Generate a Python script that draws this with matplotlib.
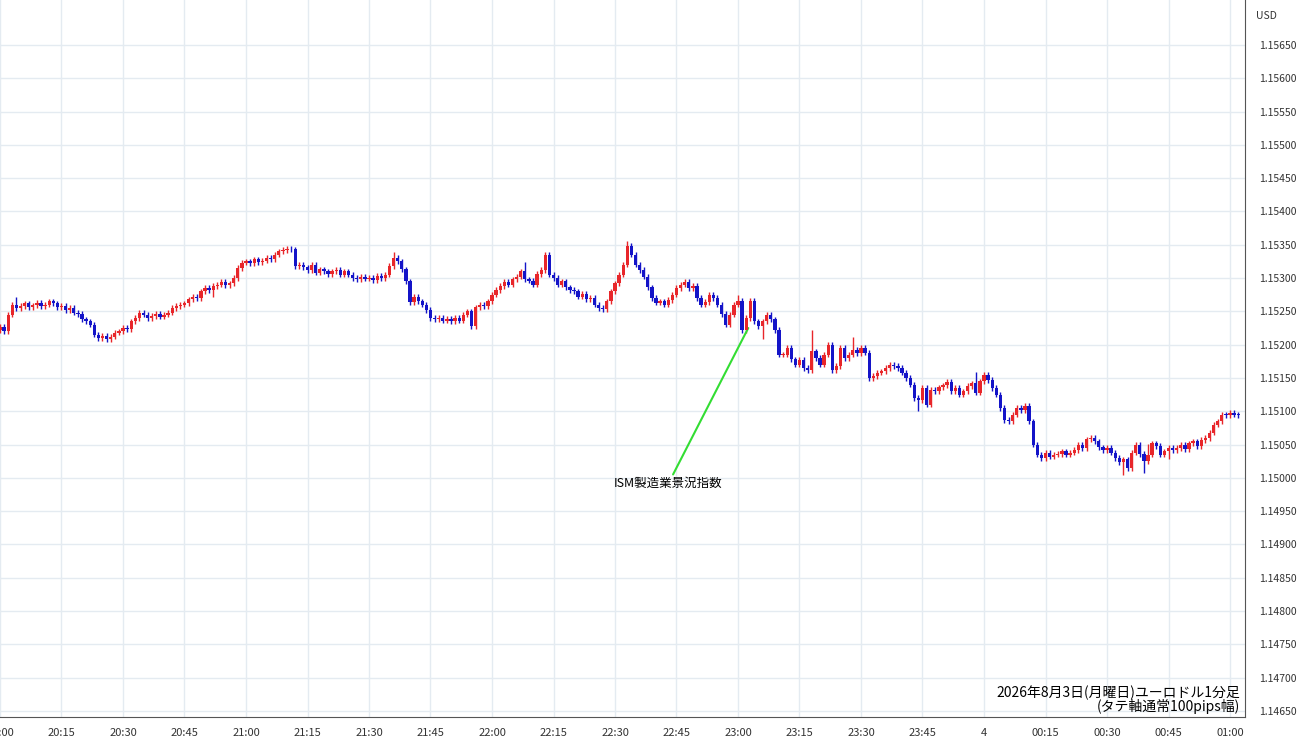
import matplotlib
matplotlib.use("Agg")
import matplotlib.pyplot as plt
import numpy as np

plt.rcParams['font.family'] = ['Noto Sans CJK JP', 'DejaVu Sans']

# closes in pips above 1.15000, one per minute from 20:00
closes_pips = [
 22.7,22.0,24.5,26.0,25.5,25.8,26.2,25.6,25.9,26.3,25.8,26.0,26.5,26.2,25.6,
 25.8,25.2,25.5,24.8,24.6,23.8,23.5,23.0,21.5,21.0,21.3,20.8,21.2,21.8,22.0,
 22.5,22.3,23.5,24.0,24.8,24.5,24.0,24.3,24.6,24.2,24.5,24.8,25.5,25.8,26.0,
 26.2,26.8,27.2,27.0,28.0,28.5,28.2,28.8,29.0,29.4,28.9,29.2,30.0,31.5,32.3,
 32.5,32.2,32.8,32.4,32.6,33.0,32.8,33.5,34.0,34.2,34.4,34.3,31.8,32.0,31.6,
 31.2,32.0,30.8,31.3,31.0,30.6,31.0,31.2,30.5,31.0,30.5,30.0,29.8,30.2,29.9,
 30.0,29.7,30.3,30.0,30.5,31.8,33.0,32.5,31.3,29.5,26.4,27.2,26.5,26.0,25.2,
 24.0,23.8,24.0,23.6,23.9,23.5,24.0,23.6,24.5,25.0,22.8,25.6,26.0,25.8,26.5,
 27.5,28.2,28.8,29.4,29.0,29.8,30.2,31.0,29.8,29.6,29.0,30.6,31.2,33.5,30.5,
 30.0,29.0,29.5,28.6,28.2,28.0,27.2,27.6,26.8,27.0,26.0,25.5,25.3,26.5,28.0,
 29.2,30.5,32.0,34.8,33.5,32.0,31.2,30.2,28.6,27.0,26.3,26.5,26.0,26.7,27.5,
 28.5,29.0,29.4,28.5,28.8,27.0,26.0,26.4,27.5,27.0,26.0,24.6,23.0,24.5,26.0,
 26.6,22.2,24.0,26.6,23.5,22.8,23.5,24.5,23.8,22.2,18.5,18.5,19.5,17.8,17.0,
 17.7,16.5,16.2,19.0,18.0,17.0,18.5,20.0,16.2,16.8,19.5,18.0,18.5,19.2,18.7,
 19.5,18.8,15.0,15.3,15.8,16.0,16.5,17.0,16.8,16.5,15.8,15.0,14.0,12.0,11.7,
 13.5,11.0,13.2,13.0,13.6,13.9,14.4,13.0,13.5,12.5,13.0,13.8,14.2,12.8,14.5,
 15.5,14.7,13.5,12.5,10.5,8.7,8.5,9.5,10.5,10.2,10.8,8.5,5.0,3.5,3.0,
 3.8,3.2,3.5,3.6,4.0,3.5,3.8,4.2,5.0,4.5,5.8,6.0,5.5,4.6,4.2,
 4.5,3.8,3.0,2.4,2.8,1.5,3.8,5.0,3.6,2.5,3.5,5.2,4.8,3.5,4.0,
 4.5,4.2,4.5,5.0,4.3,5.2,5.5,4.8,5.7,6.0,6.8,8.0,8.5,9.5,9.4,
 9.8,9.5,9.4]
first_open_pips = 22.2
wick_pips = 0.4
# occasional long wicks: minute -> (extra high, extra low) in pips
spikes = {4:(0.8,0), 52:(0,0.6), 96:(0.5,0), 128:(1.0,0), 153:(0.3,0), 180:(0.5,0),
          186:(0,1.5), 198:(2.8,0), 208:(1.5,0), 224:(0,1.2), 238:(1.3,0),
          274:(0,1.5), 279:(0,1.3), 280:(1.2,0), 285:(0,0.8)}

xtick_labels = ["20:00","20:15","20:30","20:45","21:00","21:15","21:30","21:45","22:00",
                "22:15","22:30","22:45","23:00","23:15","23:30","23:45","4","00:15","00:30","00:45","01:00"]
ytick_vals = [1.14650 + 0.0005*i for i in range(21)]

base = 1.15
closes = base + np.array(closes_pips)/10000
opens = np.concatenate([[base+first_open_pips/10000], closes[:-1]])
n = len(closes)
highs = np.maximum(opens, closes) + wick_pips/10000
lows = np.minimum(opens, closes) - wick_pips/10000
for k,(h,l) in spikes.items():
    highs[k] += h/10000; lows[k] -= l/10000

fig = plt.figure(figsize=(13, 7.45), dpi=100)
ax = fig.add_axes([0, 28/745, 1245/1300, 717/745])
RED, BLUE = "#e8262a", "#1414c8"
x = np.arange(n)
for i in range(n):
    c = RED if closes[i] >= opens[i] else BLUE
    ax.vlines(x[i], lows[i], highs[i], color=c, lw=1.0, zorder=3)
    b0, b1 = min(opens[i], closes[i]), max(opens[i], closes[i])
    if b1 - b0 < 0.000012: b1 = b0 + 0.000012
    ax.bar(x[i], b1-b0, bottom=b0, width=0.8, color=c, zorder=4, lw=0)

ax.set_xlim(0, 1245/4.1)
ax.set_ylim(1.14650 - 6/66600, 1.15650 + 45/66600)
ax.set_xticks(np.arange(0, 301, 15))
ax.set_xticklabels(xtick_labels, fontsize=8, color="#333333")
ax.yaxis.tick_right()
ax.set_yticks(ytick_vals)
ax.set_yticklabels([f"{v:.5f}" for v in ytick_vals], fontsize=7.5, color="#333333")
ax.tick_params(length=0, pad=8)
ax.tick_params(axis='y', pad=10)
ax.grid(color="#e4ebf1", lw=1)
for s in ["top","left"]:
    ax.spines[s].set_visible(False)
ax.spines["right"].set_color("#555555")
ax.spines["bottom"].set_color("#555555")

ax.annotate("ISM製造業景況指数", xy=(182.5, base+22.5/10000), xytext=(163, base+0.1/10000),
            ha="center", va="top", fontsize=9,
            arrowprops=dict(arrowstyle="-", color="#33dd33", lw=1.5, shrinkA=0, shrinkB=0))
ax.text(302.5, base-(693-478)/6.66/10000, "2026年8月3日(月曜日)ユーロドル1分足",
        ha="right", va="center", fontsize=10)
ax.text(302.5, base-(707-478)/6.66/10000, "(タテ軸通常100pips幅)",
        ha="right", va="center", fontsize=10)
fig.text(1256/1300, 1-16/745, "USD", fontsize=7.5, color="#333333", va="center")
fig.savefig("out.png", dpi=100)
